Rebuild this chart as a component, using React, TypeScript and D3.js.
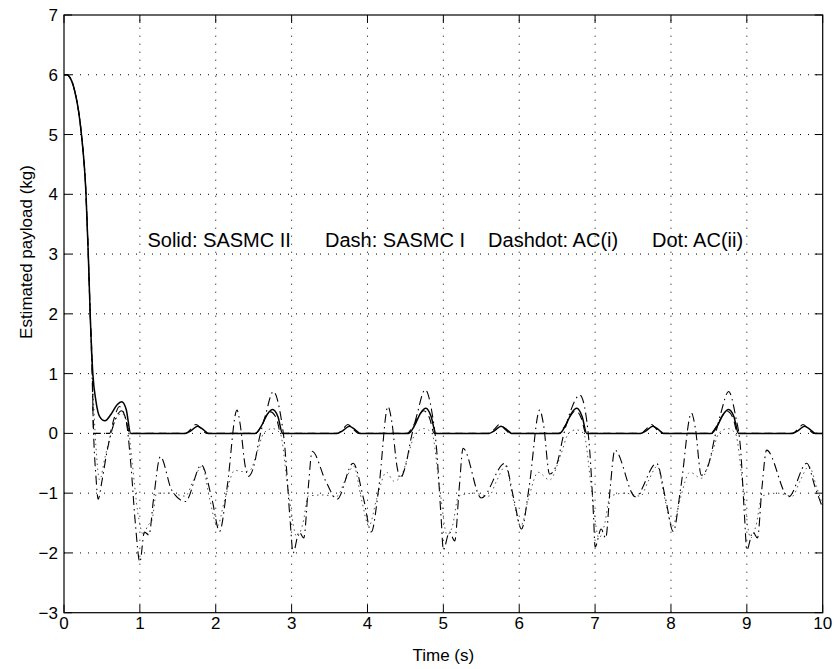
import React from "react";
import * as d3 from "d3";

type P = [number, number];

const xTicks = [0, 1, 2, 3, 4, 5, 6, 7, 8, 9, 10];
const yTicks = [-3, -2, -1, 0, 1, 2, 3, 4, 5, 6, 7];

const solidSASMC2: P[] = [
  [0, 6], [0.04, 6], [0.08, 5.95], [0.12, 5.83], [0.16, 5.62], [0.19, 5.41], [0.23, 5.0],
  [0.29, 4.0], [0.32, 3.0], [0.345, 2.0], [0.38, 1.0], [0.42, 0.55], [0.47, 0.28], [0.54, 0.21],
  [0.62, 0.32], [0.7, 0.48], [0.76, 0.53], [0.82, 0.4], [0.88, 0],
  [1.6, 0], [1.68, 0.05], [1.76, 0.12], [1.84, 0.06], [1.9, 0],
  [2.52, 0], [2.6, 0.12], [2.68, 0.32], [2.75, 0.4], [2.82, 0.28], [2.88, 0],
  [3.6, 0], [3.68, 0.05], [3.76, 0.12], [3.84, 0.06], [3.9, 0],
  [4.54, 0], [4.62, 0.13], [4.7, 0.34], [4.77, 0.42], [4.84, 0.28], [4.9, 0],
  [5.6, 0], [5.68, 0.05], [5.76, 0.12], [5.84, 0.06], [5.9, 0],
  [6.53, 0], [6.61, 0.13], [6.69, 0.34], [6.76, 0.42], [6.83, 0.28], [6.89, 0],
  [7.6, 0], [7.68, 0.05], [7.76, 0.12], [7.84, 0.06], [7.9, 0],
  [8.53, 0], [8.61, 0.12], [8.69, 0.32], [8.76, 0.4], [8.83, 0.28], [8.89, 0],
  [9.6, 0], [9.68, 0.05], [9.76, 0.12], [9.84, 0.06], [9.9, 0], [10, 0],
];

const dashSASMC1: P[] = [
  [0, 6], [0.04, 6], [0.08, 5.95], [0.12, 5.83], [0.16, 5.62], [0.19, 5.41], [0.23, 5.0],
  [0.29, 4.0], [0.32, 3.0], [0.345, 2.0], [0.37, 1.2], [0.39, 0],
  [0.6, 0], [0.66, 0.25], [0.73, 0.45], [0.8, 0.3], [0.87, 0],
  [1.6, 0], [1.68, 0.08], [1.74, 0.15], [1.82, 0.06], [1.88, 0],
  [2.52, 0], [2.6, 0.12], [2.66, 0.28], [2.72, 0.36], [2.8, 0.25], [2.86, 0],
  [3.6, 0], [3.68, 0.08], [3.74, 0.15], [3.82, 0.06], [3.88, 0],
  [4.52, 0], [4.6, 0.12], [4.68, 0.3], [4.74, 0.38], [4.82, 0.25], [4.88, 0],
  [5.6, 0], [5.68, 0.08], [5.74, 0.15], [5.82, 0.06], [5.88, 0],
  [6.52, 0], [6.6, 0.12], [6.68, 0.3], [6.74, 0.38], [6.82, 0.25], [6.88, 0],
  [7.6, 0], [7.68, 0.08], [7.74, 0.15], [7.82, 0.06], [7.88, 0],
  [8.52, 0], [8.6, 0.12], [8.68, 0.3], [8.74, 0.37], [8.82, 0.25], [8.88, 0],
  [9.6, 0], [9.68, 0.08], [9.74, 0.15], [9.82, 0.06], [9.88, 0], [10, 0],
];

const dashdotACi: P[] = [
  [0, 6], [0.04, 6], [0.08, 5.95], [0.12, 5.83], [0.16, 5.62], [0.19, 5.41], [0.23, 5.0],
  [0.29, 4.0], [0.32, 3.0], [0.345, 2.0], [0.37, 1.0], [0.39, 0], [0.42, -0.7], [0.45, -1.1],
  [0.5, -0.8], [0.56, -0.35], [0.62, 0], [0.7, 0.3], [0.76, 0.38], [0.82, 0.2], [0.88, -0.5],
  [0.94, -1.5], [1.0, -2.15], [1.06, -1.65], [1.12, -1.7], [1.18, -1.1], [1.27, -0.39],
  [1.42, -0.95], [1.6, -1.14], [1.81, -0.53], [1.95, -1.1], [2.05, -1.64], [2.15, -0.9],
  [2.28, 0.39], [2.32, 0.17], [2.39, -0.56], [2.43, -0.72], [2.5, -0.56], [2.58, -0.05],
  [2.65, 0.28], [2.76, 0.7], [2.85, 0.34], [2.91, -0.22], [2.98, -1.45], [3.02, -2.0],
  [3.1, -1.65], [3.16, -1.75], [3.22, -0.9], [3.27, -0.3], [3.45, -0.8], [3.6, -1.1],
  [3.81, -0.5], [3.95, -1.1], [4.05, -1.65], [4.15, -0.9], [4.27, 0.45], [4.32, 0.2],
  [4.39, -0.56], [4.43, -0.75], [4.5, -0.55], [4.58, -0.05], [4.65, 0.3], [4.76, 0.73],
  [4.85, 0.35], [4.91, -0.25], [4.97, -1.4], [5.0, -1.95], [5.08, -1.65], [5.15, -1.8],
  [5.21, -0.9], [5.26, -0.25], [5.5, -1.08], [5.81, -0.5], [5.93, -1.1], [6.03, -1.6],
  [6.13, -0.9], [6.27, 0.39], [6.32, 0.15], [6.4, -0.68], [6.5, -0.5], [6.58, -0.05],
  [6.67, 0.35], [6.8, 0.64], [6.88, 0.3], [6.93, -0.3], [6.98, -1.4], [7.0, -1.9],
  [7.08, -1.6], [7.14, -1.75], [7.2, -0.9], [7.26, -0.28], [7.53, -1.06], [7.81, -0.5],
  [7.93, -1.1], [8.03, -1.64], [8.13, -0.9], [8.27, 0.34], [8.32, 0.1], [8.4, -0.7],
  [8.5, -0.5], [8.58, -0.05], [8.66, 0.35], [8.76, 0.7], [8.85, 0.3], [8.92, -0.3],
  [8.97, -1.4], [9.0, -1.95], [9.08, -1.65], [9.14, -1.75], [9.2, -0.9], [9.26, -0.28],
  [9.55, -1.06], [9.79, -0.5], [9.9, -0.9], [10, -1.25],
];

const dotACii: P[] = [
  [0, 6], [0.04, 6], [0.08, 5.95], [0.12, 5.83], [0.16, 5.62], [0.19, 5.41], [0.23, 5.0],
  [0.29, 4.0], [0.32, 3.0], [0.345, 2.0], [0.38, 0.8], [0.42, -0.2], [0.47, -0.78],
  [0.54, -0.4], [0.62, 0], [0.7, 0.28], [0.76, 0.33], [0.84, 0.15], [0.9, -0.5], [0.97, -1.3],
  [1.05, -1.7], [1.1, -1.55], [1.16, -1.45], [1.22, -1.0], [1.4, -1.0], [1.6, -1.05],
  [1.7, -0.8], [1.82, -0.55], [1.92, -1.1], [2.02, -1.55], [2.12, -1.1], [2.25, -0.62],
  [2.37, -0.64], [2.45, -0.62], [2.55, -0.3], [2.63, 0], [2.75, 0.08], [2.85, 0],
  [2.95, -0.9], [3.07, -1.73], [3.15, -1.5], [3.22, -1.05], [3.4, -1.03], [3.6, -1.05],
  [3.7, -0.8], [3.82, -0.55], [3.92, -1.1], [4.02, -1.55], [4.12, -1.1], [4.25, -0.65],
  [4.35, -0.8], [4.45, -0.7], [4.55, -0.3], [4.63, 0], [4.75, 0.08], [4.85, 0],
  [4.95, -0.9], [5.05, -1.7], [5.12, -1.55], [5.2, -1.05], [5.4, -1.0], [5.6, -1.05],
  [5.7, -0.8], [5.82, -0.55], [5.92, -1.1], [6.02, -1.55], [6.12, -1.1], [6.25, -0.65],
  [6.4, -0.78], [6.55, -0.35], [6.65, 0], [6.75, 0.06], [6.85, 0], [6.95, -0.9],
  [7.05, -1.75], [7.12, -1.55], [7.2, -1.05], [7.4, -1.0], [7.6, -1.05], [7.7, -0.8],
  [7.82, -0.55], [7.92, -1.1], [8.02, -1.55], [8.12, -1.1], [8.25, -0.65], [8.4, -0.75],
  [8.55, -0.3], [8.63, 0], [8.75, 0.08], [8.85, 0], [8.95, -0.9], [9.05, -1.75],
  [9.12, -1.55], [9.2, -1.05], [9.4, -1.0], [9.6, -1.05], [9.7, -0.8], [9.82, -0.55],
  [9.92, -0.9], [10, -1.2],
];

const annotations = [
  { label: "Solid: SASMC II", x: 1.1 },
  { label: "Dash: SASMC I", x: 3.44 },
  { label: "Dashdot: AC(i)", x: 5.59 },
  { label: "Dot: AC(ii)", x: 7.75 },
];
const annotationY = 3.24;

const W = 839;
const H = 669;
const M = { left: 64, right: 16.3, top: 15, bottom: 56.3 };
const FONT = "'Liberation Sans', Arial, Helvetica, sans-serif";

export default function App() {
  const x = d3.scaleLinear().domain([0, 10]).range([M.left, W - M.right]);
  const y = d3.scaleLinear().domain([-3, 7]).range([H - M.bottom, M.top]);
  const line = d3
    .line<P>()
    .x((d) => x(d[0]))
    .y((d) => y(d[1]))
    .curve(d3.curveMonotoneX);

  const x0 = x(0), x1 = x(10), y0 = y(-3), y1 = y(7);
  const tick = 8;
  const fs = 17;

  const series = [
    { data: dotACii, dash: "1.5,3.5", width: 1, color: "#555" },
    { data: dashdotACi, dash: "9,4,1.5,4", width: 1.1, color: "#000" },
    { data: dashSASMC1, dash: "8,5", width: 1.1, color: "#000" },
    { data: solidSASMC2, dash: undefined, width: 1.5, color: "#000" },
  ];

  return (
    <svg
      width={W}
      height={H}
      style={{ position: "absolute", left: 0, top: 0, background: "#fff" }}
      fontFamily={FONT}
    >
      <rect x={0} y={0} width={W} height={H} fill="#fff" />
      {xTicks.slice(1, -1).map((t) => (
        <line key={"gx" + t} x1={x(t)} x2={x(t)} y1={y0} y2={y1}
          stroke="#000" strokeWidth={1} strokeDasharray="1,7" />
      ))}
      {yTicks.slice(1, -1).map((t) => (
        <line key={"gy" + t} x1={x0} x2={x1} y1={y(t)} y2={y(t)}
          stroke="#000" strokeWidth={1} strokeDasharray="1,7" />
      ))}
      {series.map((s, i) => (
        <path key={i} d={line(s.data) || ""} fill="none" stroke={s.color}
          strokeWidth={s.width} strokeDasharray={s.dash} />
      ))}
      <rect x={x0} y={y1} width={x1 - x0} height={y0 - y1} fill="none" stroke="#000" strokeWidth={1.2} />
      {xTicks.map((t) => (
        <g key={"tx" + t}>
          <line x1={x(t)} x2={x(t)} y1={y0} y2={y0 - tick} stroke="#000" />
          <line x1={x(t)} x2={x(t)} y1={y1} y2={y1 + tick} stroke="#000" />
          <text x={x(t)} y={y0 + 16} textAnchor="middle" fontSize={fs}>{t}</text>
        </g>
      ))}
      {yTicks.map((t) => (
        <g key={"ty" + t}>
          <line x1={x0} x2={x0 + tick} y1={y(t)} y2={y(t)} stroke="#000" />
          <line x1={x1} x2={x1 - tick} y1={y(t)} y2={y(t)} stroke="#000" />
          <text x={x0 - 6} y={y(t) + 6} textAnchor="end" fontSize={fs}>
            {t < 0 ? "−" + Math.abs(t) : t}
          </text>
        </g>
      ))}
      <text x={(x0 + x1) / 2} y={H - 8} textAnchor="middle" fontSize={fs}>Time (s)</text>
      <text transform={`translate(32,252) rotate(-90)`} textAnchor="middle" fontSize={fs}>
        Estimated payload (kg)
      </text>
      {annotations.map((a) => (
        <text key={a.label} x={x(a.x)} y={y(annotationY)} dominantBaseline="central" fontSize={20}>
          {a.label}
        </text>
      ))}
    </svg>
  );
}
